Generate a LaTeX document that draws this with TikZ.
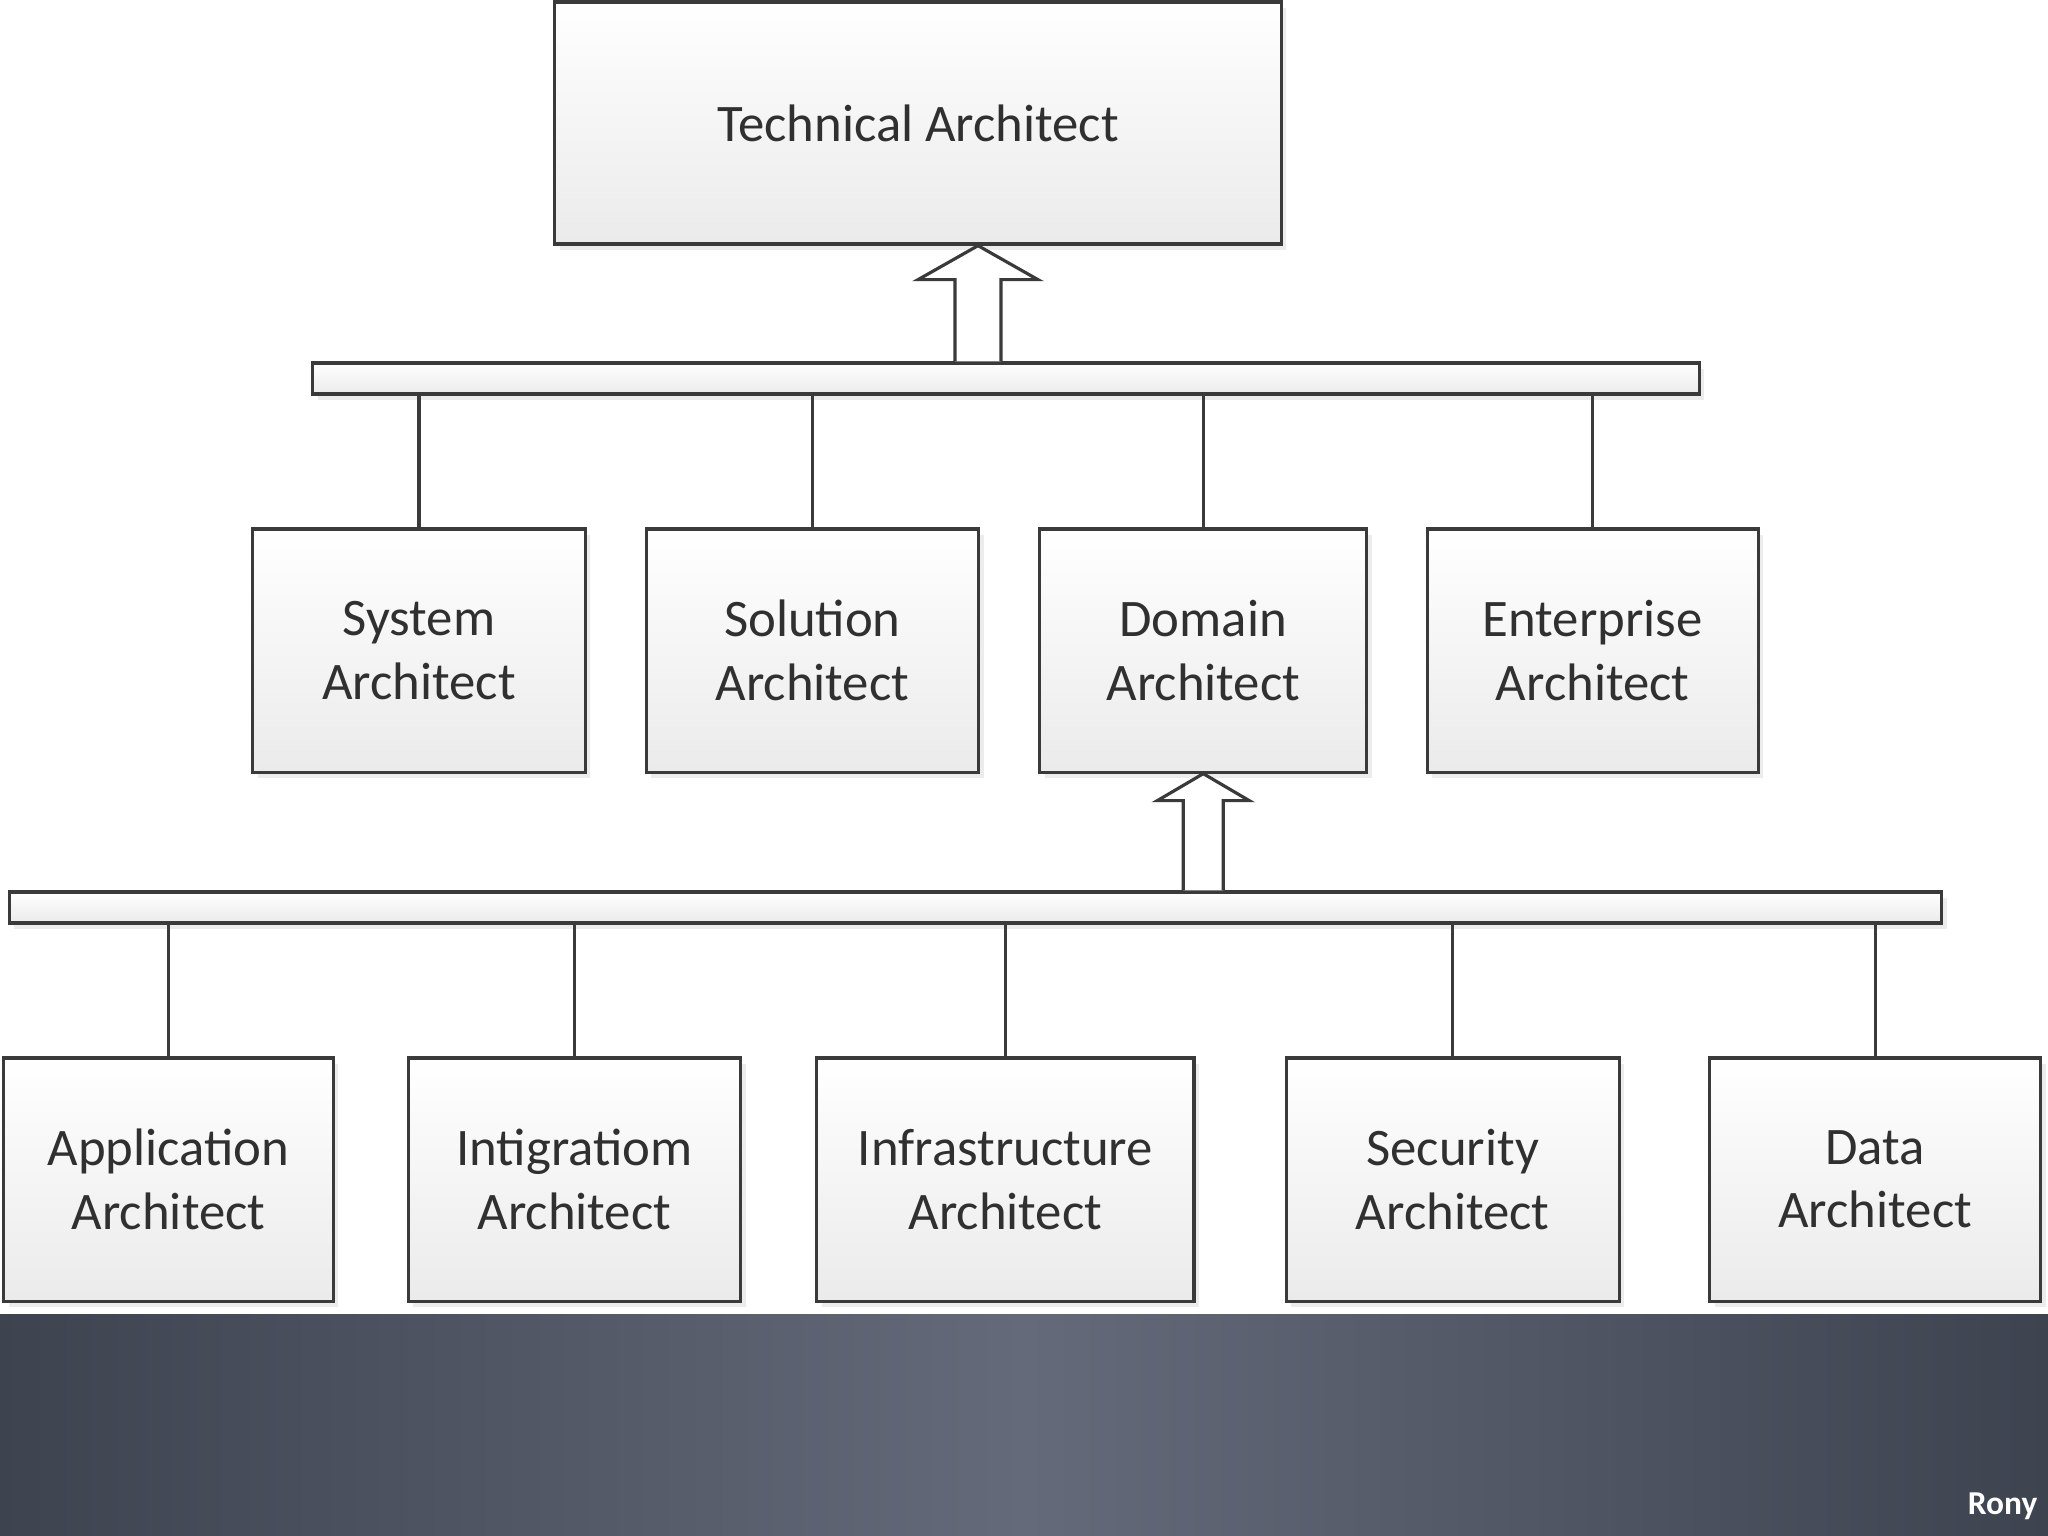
\documentclass[tikz,border=0pt]{standalone}
\usepackage{fontspec}
\setmainfont{Carlito}
\usetikzlibrary{positioning,calc,shadows}
\definecolor{edgegray}{HTML}{3A3A3A}
\definecolor{textgray}{HTML}{303030}
\definecolor{banddark}{HTML}{3E4350}
\definecolor{bandlight}{HTML}{646A79}

\begin{document}
\begin{tikzpicture}[
    x=0.01cm, y=-0.01cm,
    font=\fontsize{15}{18}\selectfont,
    role/.style={draw=edgegray, line width=0.9pt, top color=white, bottom color=black!8, text=textgray, align=center, minimum height=2.43cm, inner sep=0pt, drop shadow={opacity=0.15, shadow xshift=0.05cm, shadow yshift=-0.06cm}},
    bar/.style={role, minimum height=0.31cm},
    link/.style={draw=edgegray, line width=0.9pt},
    hollow/.style={draw=edgegray, line width=0.9pt, fill=white, line join=miter}
]
    \useasboundingbox (0,0) rectangle (2048,1536);
    \fill[white] (0,0) rectangle (2048,1314);
    \shade[left color=banddark, right color=banddark, middle color=bandlight] (0,1314) rectangle (2048,1536);
    \node[font=\bfseries\fontsize{9.5}{11}\selectfont, text=white, anchor=south east, inner sep=0pt] (sign) at (2038,1520) {Rony};

    \node[role, minimum width=7.26cm, minimum height=2.42cm] (top) at (918,123) {Technical Architect};
    \node[bar, minimum width=13.86cm] (bar1) at (1006,378.5) {};

    \node[role, minimum width=3.32cm] (system) at (419,650.5) {System\\Architect};
    \node[role, minimum width=3.32cm, right=0.58cm of system] (solution) {Solution\\Architect};
    \node[role, minimum width=3.27cm, right=0.58cm of solution] (domain) {Domain\\Architect};
    \node[role, minimum width=3.31cm, right=0.57cm of domain] (enterprise) {Enterprise\\Architect};

    \node[bar, minimum width=19.31cm] (bar2) at (975.5,907.5) {};

    \node[role, minimum width=3.29cm] (application) at (168.5,1179.5) {Application\\Architect};
    \node[role, minimum width=3.32cm, right=0.72cm of application] (integration) {Intigratiom\\Architect};
    \node[role, minimum width=3.77cm, right=0.73cm of integration] (infrastructure) {Infrastructure\\Architect};
    \node[role, minimum width=3.33cm, right=0.89cm of infrastructure] (security) {Security\\Architect};
    \node[role, minimum width=3.31cm, right=0.87cm of security] (data) {Data\\Architect};

    % roles hang from the bars
    \foreach \b in {system,solution,domain,enterprise}
        \draw[link] (\b.north) -- (\b.north |- bar1.south);
    \foreach \b in {application,integration,infrastructure,security,data}
        \draw[link] (\b.north) -- (\b.north |- bar2.south);

    % block arrows
    \coordinate (upbase) at (978,0 |- bar1.north);
    \coordinate (uptip) at (978,0 |- top.south);
    \draw[hollow] ($(upbase)+(-23,0)$) -- ($(uptip)+(-23,34)$) -- ($(uptip)+(-60,34)$) -- (uptip)
        -- ($(uptip)+(60,34)$) -- ($(uptip)+(23,34)$) -- ($(upbase)+(23,0)$);

    \coordinate (lowbase) at (domain.south |- bar2.north);
    \coordinate (lowtip) at (domain.south);
    \draw[hollow] ($(lowbase)+(-20,0)$) -- ($(lowtip)+(-20,27)$) -- ($(lowtip)+(-46,27)$) -- (lowtip)
        -- ($(lowtip)+(46,27)$) -- ($(lowtip)+(20,27)$) -- ($(lowbase)+(20,0)$);
\end{tikzpicture}
\end{document}
